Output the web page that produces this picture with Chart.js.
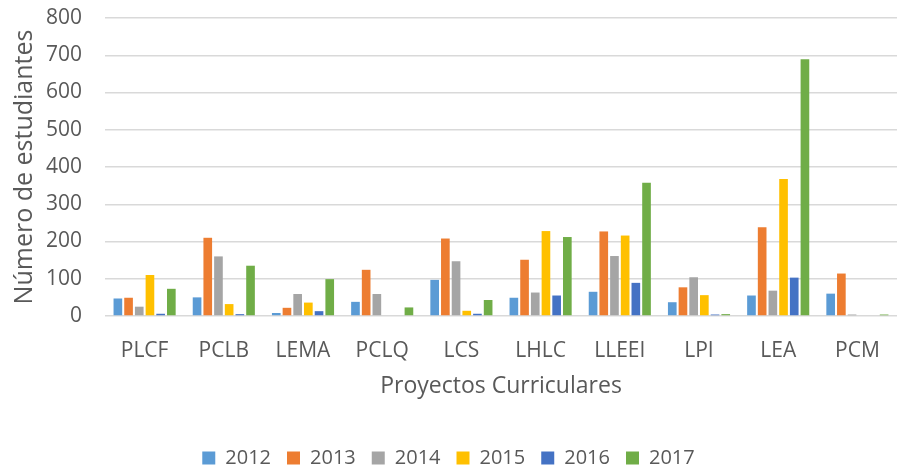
<!DOCTYPE html>
<html><head><meta charset="utf-8">
<script src="https://cdn.jsdelivr.net/npm/chart.js@4/dist/chart.umd.min.js"></script>
<style>html,body{margin:0;padding:0;background:#fff}#w{width:897px;height:469px}</style>
</head><body><div id="w"><canvas id="c"></canvas></div>
<script>
const categories = ["PLCF","PCLB","LEMA","PCLQ","LCS","LHLC","LLEEI","LPI","LEA","PCM"];
const years = ["2012","2013","2014","2015","2016","2017"];
const v2012 = [47, 50, 8, 38, 97, 49, 65, 37, 55, 60];
const v2013 = [49, 210, 22, 124, 208, 151, 227, 77, 238, 114];
const v2014 = [25, 160, 59, 59, 147, 63, 161, 104, 68, 4];
const v2015 = [110, 32, 36, 0, 14, 228, 216, 56, 368, 0];
const v2016 = [6, 5, 13, 0, 6, 55, 89, 4, 103, 0];
const v2017 = [73, 135, 99, 23, 43, 212, 358, 5, 689, 4];
const yTicks = [0,100,200,300,400,500,600,700,800];
const colors = ["#5B9BD5","#ED7D31","#A5A5A5","#FFC000","#4472C4","#70AD47"];
const series = [v2012,v2013,v2014,v2015,v2016,v2017];
const FONT = "'Open Sans', 'Liberation Sans', sans-serif";
new Chart(document.getElementById('c'), {
  type: 'bar',
  data: {
    labels: categories,
    datasets: series.map((d,i)=>({label: years[i], data: d, backgroundColor: colors[i], borderWidth: 0,
      categoryPercentage: 0.81, barPercentage: 0.81}))
  },
  options: {
    responsive: true, maintainAspectRatio: false, animation: false,
    layout: {padding: {left: 0, right: 0, top: 18, bottom: -9}},
    plugins: {
      legend: {position: 'bottom', labels: {boxWidth: 13, boxHeight: 13, padding: 16, color: '#595959',
        font: {family: FONT, size: 20}}},
      tooltip: {enabled: false}
    },
    scales: {
      x: {
        afterFit: s => { s.height = 116; s.paddingLeft = 0; s.paddingRight = 0; },
        grid: {display: false},
        border: {display: false},
        ticks: {color: '#595959', font: {family: FONT, size: 21}, padding: 14},
        title: {display: true, text: 'Proyectos Curriculares', color: '#595959', font: {family: FONT, size: 23}, padding: {top: 0, bottom: 32}}
      },
      y: {
        min: 0, max: 800,
        afterBuildTicks: (s)=>{ s.ticks = yTicks.map(v=>({value:v})); },
        afterFit: s => { s.width = 105; s.paddingTop = 0; s.paddingBottom = 0; },
        grid: {color: '#D9D9D9', lineWidth: 1.5, drawTicks: false},
        border: {display: false},
        ticks: {color: '#595959', font: {family: FONT, size: 21}, padding: 23},
        title: {display: true, text: 'Número de estudiantes', color: '#595959', font: {family: FONT, size: 25}, padding: {top: 10, bottom: 0}}
      }
    }
  }
});
</script></body></html>
